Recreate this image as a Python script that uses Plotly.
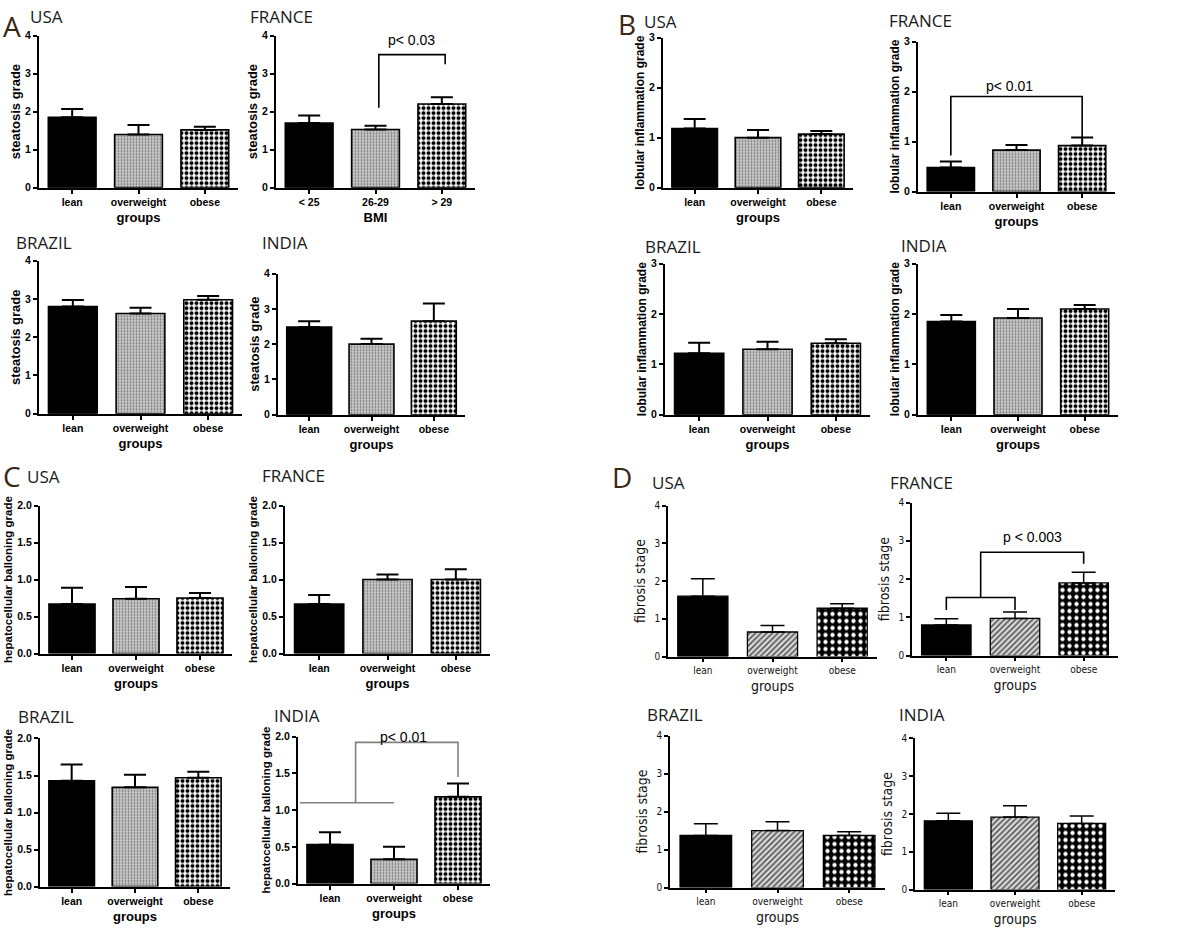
import plotly.graph_objects as go

# ---------------- data ----------------
groups = ["lean", "overweight", "obese"]
bmi_labels = ["< 25", "26-29", "> 29"]
countries = ["USA", "FRANCE", "BRAZIL", "INDIA"]

steatosis_usa = [1.85, 1.40, 1.52]
steatosis_usa_sem = [0.22, 0.25, 0.08]
steatosis_france = [1.70, 1.53, 2.20]
steatosis_france_sem = [0.20, 0.10, 0.18]
steatosis_brazil = [2.80, 2.62, 2.98]
steatosis_brazil_sem = [0.17, 0.15, 0.10]
steatosis_india = [2.48, 2.00, 2.65]
steatosis_india_sem = [0.17, 0.15, 0.50]

lobular_usa = [1.18, 1.00, 1.07]
lobular_usa_sem = [0.19, 0.15, 0.06]
lobular_france = [0.48, 0.83, 0.92]
lobular_france_sem = [0.12, 0.10, 0.16]
lobular_brazil = [1.22, 1.30, 1.42]
lobular_brazil_sem = [0.21, 0.15, 0.08]
lobular_india = [1.85, 1.92, 2.10]
lobular_india_sem = [0.13, 0.18, 0.08]

ballooning_usa = [0.67, 0.74, 0.75]
ballooning_usa_sem = [0.22, 0.16, 0.07]
ballooning_france = [0.67, 1.00, 1.00]
ballooning_france_sem = [0.12, 0.07, 0.14]
ballooning_brazil = [1.43, 1.34, 1.47]
ballooning_brazil_sem = [0.22, 0.17, 0.08]
ballooning_india = [0.53, 0.33, 1.18]
ballooning_india_sem = [0.17, 0.17, 0.18]

fibrosis_usa = [1.60, 0.65, 1.28]
fibrosis_usa_sem = [0.46, 0.17, 0.12]
fibrosis_france = [0.80, 0.97, 1.90]
fibrosis_france_sem = [0.16, 0.17, 0.28]
fibrosis_brazil = [1.37, 1.50, 1.37]
fibrosis_brazil_sem = [0.31, 0.23, 0.10]
fibrosis_india = [1.82, 1.92, 1.75]
fibrosis_india_sem = [0.20, 0.30, 0.20]

# significance brackets (category-index x, value y)
bracket_a_france_x = [1.05, 1.05, 2.05, 2.05]
bracket_a_france_y = [2.1, 3.5, 3.5, 3.25]
bracket_b_france_x = [0, 0, 2, 2]
bracket_b_france_y = [0.72, 1.9, 1.9, 1.05]
bracket_c_india_x = [-0.47, 1.0, None, 0.4, 0.4, 2.0, 2.0]
bracket_c_india_y = [1.1, 1.1, None, 1.1, 1.92, 1.92, 1.45]
bracket_d_france_x = [0, 0, 1, 1, None, 0.5, 0.5, 2, 2]
bracket_d_france_y = [1.19, 1.52, 1.52, 1.19, None, 1.52, 2.7, 2.7, 2.4]

# ---------------- layout helpers ----------------
W, H = 1201, 937


def xdom(a, b):
    return [a / W, b / W]


def ydom(top, bottom):
    return [1 - bottom / H, 1 - top / H]


BOLD = "Liberation Sans"
NARROW = "Liberation Sans Narrow, DejaVu Sans Condensed, Liberation Sans"

# (values, sem, labels, ymax, dtick, fmt, ytitle, xtitle, style, ytitle size, box(x0,x1,top,bottom))
panels = [
    (steatosis_usa, steatosis_usa_sem, groups, 4, 1, "d", "steatosis grade", "groups", "g", 13, (39, 238, 30, 184)),
    (steatosis_france, steatosis_france_sem, bmi_labels, 4, 1, "d", "steatosis grade", "BMI", "g", 13, (276, 475, 30, 184)),
    (steatosis_brazil, steatosis_brazil_sem, groups, 4, 1, "d", "steatosis grade", "groups", "g", 13, (39, 242, 258, 413)),
    (steatosis_india, steatosis_india_sem, groups, 4, 1, "d", "steatosis grade", "groups", "g", 13, (278, 465, 271, 414)),
    (lobular_usa, lobular_usa_sem, groups, 3, 1, "d", "lobular inflammation grade", "groups", "g", 12, (663, 853, 32, 184)),
    (lobular_france, lobular_france_sem, groups, 3, 1, "d", "lobular inflammation grade", "groups", "g", 12, (918, 1115, 36, 188)),
    (lobular_brazil, lobular_brazil_sem, groups, 3, 1, "d", "lobular inflammation grade", "groups", "g", 12, (665, 870, 261, 414)),
    (lobular_india, lobular_india_sem, groups, 3, 1, "d", "lobular inflammation grade", "groups", "g", 12, (918, 1118, 261, 414)),
    (ballooning_usa, ballooning_usa_sem, groups, 2, 0.5, ".1f", "hepatocellular balloning grade", "groups", "g", 11.5, (40, 232, 506, 656)),
    (ballooning_france, ballooning_france_sem, groups, 2, 0.5, ".1f", "hepatocellular balloning grade", "groups", "g", 11.5, (285, 490, 506, 656)),
    (ballooning_brazil, ballooning_brazil_sem, groups, 2, 0.5, ".1f", "hepatocellular balloning grade", "groups", "g", 11.5, (40, 230, 742, 892)),
    (ballooning_india, ballooning_india_sem, groups, 2, 0.5, ".1f", "hepatocellular balloning grade", "groups", "g", 11.5, (298, 490, 740, 889)),
    (fibrosis_usa, fibrosis_usa_sem, groups, 4, 1, "d", "fibrosis stage", "groups", "d", 14, (668, 877, 506, 659)),
    (fibrosis_france, fibrosis_france_sem, groups, 4, 1, "d", "fibrosis stage", "groups", "d", 14, (912, 1118, 503, 658)),
    (fibrosis_brazil, fibrosis_brazil_sem, groups, 4, 1, "d", "fibrosis stage", "groups", "d", 14, (670, 885, 739, 893)),
    (fibrosis_india, fibrosis_india_sem, groups, 4, 1, "d", "fibrosis stage", "groups", "d", 14, (915, 1115, 742, 895)),
]

# bar fill styles per category: (marker colour, pattern dict)
styles_g = [
    ("black", None),
    ("#c8c8c8", dict(shape=".", bgcolor="#cacaca", fgcolor="#767676", size=3, solidity=0.3, fillmode="replace")),
    ("white", dict(shape=".", bgcolor="white", fgcolor="black", size=5, solidity=0.5, fillmode="replace")),
]
styles_d = [
    ("black", None),
    ("#dcdcdc", dict(shape="/", bgcolor="#dcdcdc", fgcolor="#5a5a5a", size=4, solidity=0.45, fillmode="replace")),
    ("black", dict(shape=".", bgcolor="black", fgcolor="white", size=7, solidity=0.3, fillmode="replace")),
]

fig = go.Figure()
layout = dict(
    width=W, height=H, margin=dict(l=0, r=0, t=0, b=0),
    paper_bgcolor="white", plot_bgcolor="white", showlegend=False,
    barmode="overlay",
)

for i, (vals, sem, labels, ymax, dtick, fmt, ytitle, xtitle, style, ysize, box) in enumerate(panels):
    n = i + 1
    sx = "" if n == 1 else str(n)
    x0, x1, top, bottom = box
    if style == "g":
        styles = styles_g
        lw, ethick, ewidth = 1.6, 2, 11
        tfont = dict(family=BOLD, size=10.5, color="black", weight="bold")
        afont = dict(family=BOLD, size=13, color="black", weight="bold")
        yfont = dict(family=BOLD, size=ysize, color="black", weight="bold")
        axw = 2
        ystand = 2
    else:
        styles = styles_d
        lw, ethick, ewidth = 1.3, 1.5, 12
        tfont = dict(family=NARROW, size=10, color="#111111")
        afont = dict(family=NARROW, size=14, color="#111111")
        yfont = dict(family=NARROW, size=ysize, color="#111111")
        axw = 1.5
        ystand = 6

    for j in range(3):
        col, pat = styles[j]
        marker = dict(color=col, line=dict(color="black", width=lw))
        if pat is not None:
            marker["pattern"] = pat
        fig.add_trace(go.Bar(
            x=[j], y=[vals[j]], width=0.72, marker=marker,
            error_y=dict(type="data", symmetric=False, array=[sem[j]], arrayminus=[0],
                         color="black", thickness=ethick, width=ewidth),
            xaxis="x" + sx, yaxis="y" + sx, hoverinfo="skip",
        ))

    layout["xaxis" + sx] = dict(
        domain=xdom(x0, x1), anchor="y" + sx, range=[-0.5, 2.5],
        tickvals=[0, 1, 2], ticktext=labels, tickfont=tfont,
        showline=True, linecolor="black", linewidth=axw,
        ticks="outside", ticklen=4, tickwidth=1.5, tickcolor="black",
        showgrid=False, zeroline=False, fixedrange=True,
        title=dict(text=xtitle, font=afont, standoff=6),
    )
    layout["yaxis" + sx] = dict(
        domain=ydom(top, bottom), anchor="x" + sx, range=[0, ymax],
        dtick=dtick, tick0=0, tickformat=fmt, tickfont=tfont,
        showline=True, linecolor="black", linewidth=axw,
        ticks="outside", ticklen=4, tickwidth=1.5, tickcolor="black",
        showgrid=False, zeroline=False, fixedrange=True,
        title=dict(text=ytitle, font=yfont, standoff=ystand),
    )

# significance brackets
brackets = [
    (bracket_a_france_x, bracket_a_france_y, "2", "black"),
    (bracket_b_france_x, bracket_b_france_y, "6", "black"),
    (bracket_c_india_x, bracket_c_india_y, "12", "#808080"),
    (bracket_d_france_x, bracket_d_france_y, "14", "black"),
]
for bx, by, sx, col in brackets:
    fig.add_trace(go.Scatter(
        x=bx, y=by, mode="lines", line=dict(color=col, width=1.6),
        xaxis="x" + sx, yaxis="y" + sx, hoverinfo="skip", connectgaps=False,
    ))

annotations = []
pfont = dict(family="Liberation Sans", size=14, color="black")
for text, xr, xx, yy in [
    ("p< 0.03", "2", 1.55, 3.88),
    ("p< 0.01", "6", 0.9, 2.12),
    ("p< 0.01", "12", 1.15, 2.0),
    ("p < 0.003", "14", 1.25, 3.1),
]:
    annotations.append(dict(text=text, xref="x" + xr, yref="y" + xr, x=xx, y=yy,
                            showarrow=False, font=pfont))

# country titles (left px, center y px)
tfont_c = dict(family="Open Sans", size=17, color="#1a1a1a")
title_pos = [
    (28, 11), (248, 11), (14, 240), (260, 240),
    (642, 16), (887, 15), (643, 244), (899, 243),
    (25, 477), (260, 476), (16, 720), (272, 719),
    (650, 483), (888, 483), (645, 718), (897, 718),
]
for k, (px, py) in enumerate(title_pos):
    annotations.append(dict(text=countries[k % 4], xref="paper", yref="paper",
                            x=px / W, y=1 - py / H, xanchor="left", yanchor="middle",
                            showarrow=False, font=tfont_c))

# panel letters
lfont = dict(family="Open Sans", size=28, color="#3a2814")
for letter, px, py in [("A", 1, 20), ("B", 616, 18), ("C", 1, 476), ("D", 610, 477)]:
    annotations.append(dict(text=letter, xref="paper", yref="paper",
                            x=px / W, y=1 - py / H, xanchor="left", yanchor="middle",
                            showarrow=False, font=lfont))

layout["annotations"] = annotations
fig.update_layout(**layout)
fig.write_html("out.html", config={"displayModeBar": False},
               post_script="document.body.style.margin='0';document.body.style.padding='0';")
